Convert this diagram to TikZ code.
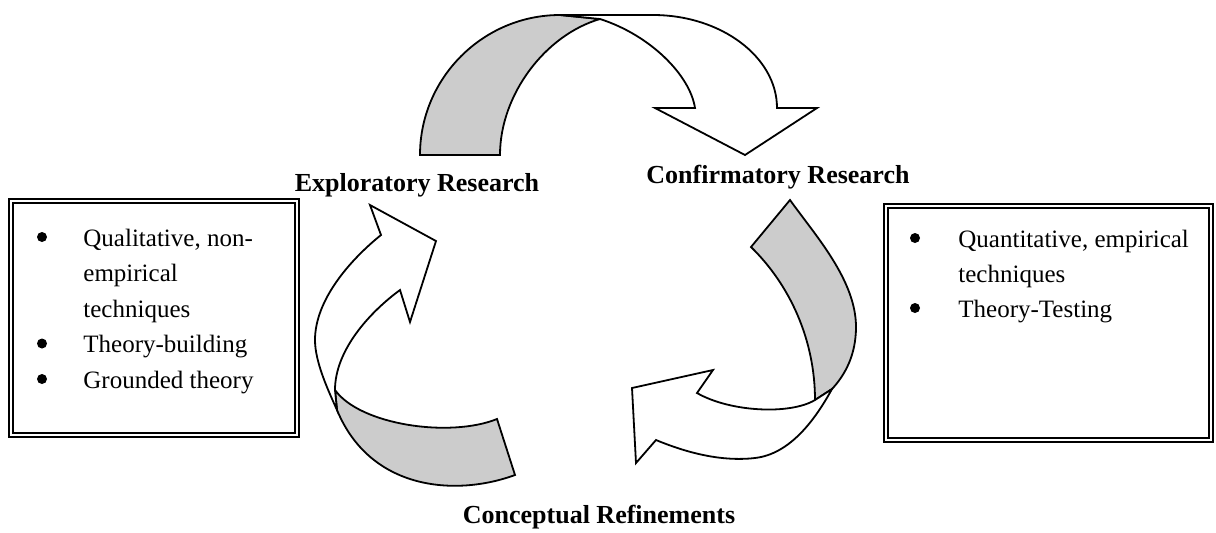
\documentclass[tikz,border=0pt]{standalone}
\usepackage{fontspec}
\setmainfont{Liberation Serif}
\begin{document}
\begin{tikzpicture}[x=0.5pt,y=-0.5pt,
  outline/.style={draw=black, line width=0.9pt, line join=miter},
  backside/.style={outline, fill=black!20},
  frontside/.style={outline, fill=white},
  framebox/.style={draw=black, line width=0.9pt, double=white, double distance=1.1pt,
    inner sep=0pt, minimum height=117pt},
  steplabel/.style={font=\fontsize{13}{15}\selectfont\bfseries, anchor=base, inner sep=0pt},
  itemtext/.style={font=\fontsize{12.5}{15}\selectfont, anchor=base west, inner sep=0pt},
  dot/.style={circle, fill=black, inner sep=0pt, minimum size=5pt}
]
\useasboundingbox (0,0) rectangle (1216,532);

% framed bullet lists
\node[framebox, minimum width=143pt] (leftbox) at (154,318) {};
\node[framebox, minimum width=162.5pt] (rightbox) at (1048.5,323) {};

\node[dot] (lb1) at (42,237) {};
\node[itemtext] (lt1) at (83,246) {Qualitative, non-};
\node[itemtext] (lt2) at (83,281.5) {empirical};
\node[itemtext] (lt3) at (83,317) {techniques};
\node[dot] (lb2) at (42,343.5) {};
\node[itemtext] (lt4) at (83,352.5) {Theory-building};
\node[dot] (lb3) at (42,379) {};
\node[itemtext] (lt5) at (83,388) {Grounded theory};

\node[dot] (rb1) at (915,238) {};
\node[itemtext] (rt1) at (958,247) {Quantitative, empirical};
\node[itemtext] (rt2) at (958,282) {techniques};
\node[dot] (rb2) at (915,308) {};
\node[itemtext] (rt3) at (958,317) {Theory-Testing};

% stage labels
\node[steplabel] (explore) at (417,191) {Exploratory Research};
\node[steplabel] (confirm) at (778,183) {Confirmatory Research};
\node[steplabel] (refine) at (599,523) {Conceptual Refinements};

% top ribbon arrow: back face, then front face with head
\path[backside] (420,155) .. controls (420,78) and (483,15) .. (560,15)
  -- (600,19) .. controls (545,35) and (500,95) .. (500,155) -- cycle;
\path[frontside] (560,15) -- (653,15) .. controls (721,15) and (777,57) .. (777,108)
  -- (817,108) -- (745,155) -- (655,108) -- (695,108)
  .. controls (690,75) and (650,35) .. (600,19) -- cycle;

% right ribbon arrow
\path[backside] (790,200) .. controls (815,235) and (856,280) .. (856,327)
  .. controls (856,355) and (845,375) .. (832,389) -- (815,400)
  .. controls (815,340) and (790,285) .. (751,247) -- cycle;
\path[frontside] (832,389) -- (815,400) .. controls (790,415) and (730,412) .. (697,393)
  -- (713,370) -- (632,388) -- (636,463) -- (656,440)
  .. controls (685,452) and (720,462) .. (755,458)
  .. controls (790,454) and (815,420) .. (832,389) -- cycle;

% left ribbon arrow
\path[backside] (335,390) .. controls (360,425) and (450,438) .. (497,419)
  -- (515,475) .. controls (455,497) and (370,490) .. (337,410) -- cycle;
\path[frontside] (381,235) .. controls (350,260) and (315,300) .. (315,340)
  .. controls (315,362) and (328,390) .. (337,410) -- (335,390)
  .. controls (335,350) and (370,312) .. (400,290)
  -- (410,322) -- (436,241) -- (370,205) -- cycle;
\end{tikzpicture}
\end{document}
